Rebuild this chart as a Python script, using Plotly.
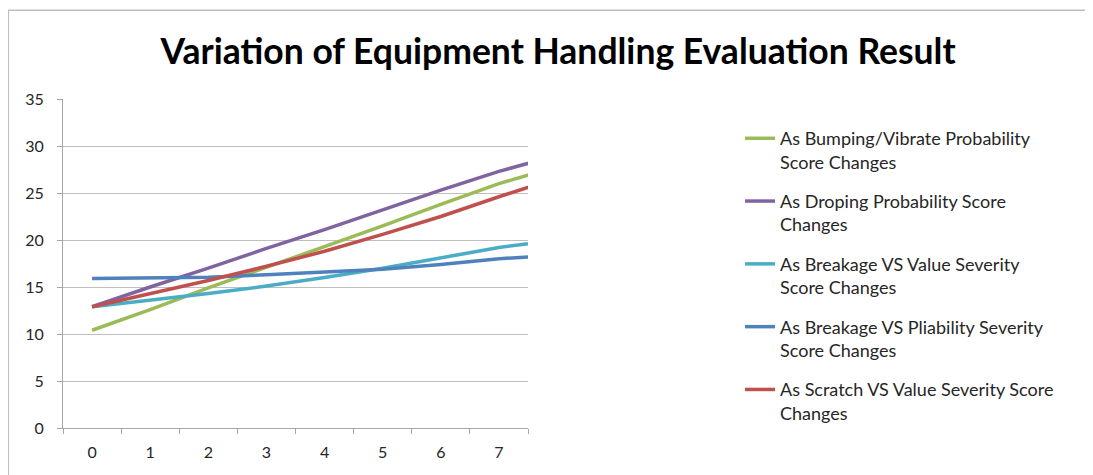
import plotly.graph_objects as go

# x categories (last point lies past the visible edge, chart is cut at 7.5)
steps = [0, 1, 2, 3, 4, 5, 6, 7, 8]

bumping = [10.4, 12.6, 14.9, 17.1, 19.3, 21.5, 23.8, 26.0, 27.8]
droping = [12.9, 15.0, 17.0, 19.1, 21.1, 23.2, 25.3, 27.3, 29.0]
breakage_value = [12.9, 13.6, 14.3, 15.1, 16.0, 17.0, 18.1, 19.2, 20.0]
breakage_pliability = [15.9, 15.95, 16.05, 16.3, 16.6, 16.9, 17.4, 18.0, 18.4]
scratch_value = [12.9, 14.3, 15.7, 17.2, 18.8, 20.6, 22.5, 24.6, 26.6]

series = [
    ("As Bumping/Vibrate Probability<br>Score Changes", bumping, "#9BBB59"),
    ("As Droping Probability Score<br>Changes", droping, "#8064A2"),
    ("As Breakage VS Value Severity<br>Score Changes", breakage_value, "#4BACC6"),
    ("As Breakage VS Pliability Severity<br>Score Changes", breakage_pliability, "#4F81BD"),
    ("As Scratch VS Value Severity Score<br>Changes", scratch_value, "#C0504D"),
]

fig = go.Figure()
for i, (name, vals, col) in enumerate(series):
    fig.add_trace(go.Scatter(
        x=steps, y=vals, name=name, mode="lines",
        legendgroup="g%d" % i,
        line=dict(color=col, width=3.5),
    ))

# page has an 8px body margin, so the figure is a bit smaller than the window
fig.update_layout(
    width=1085, height=467,
    paper_bgcolor="white", plot_bgcolor="white",
    font=dict(family="Lato", size=16, color="#262626"),
    margin=dict(l=55, r=565, t=91, b=47),
    title=dict(
        text="<b>Variation of Equipment Handling Evaluation Result</b>",
        x=0.507, xref="container", xanchor="center",
        y=0.906, yref="container", yanchor="middle",
        font=dict(family="Lato", size=35.5, color="black"),
    ),
    showlegend=True,
    legend=dict(
        x=1.456, xanchor="left", y=0.936, yanchor="top",
        valign="top", tracegroupgap=13, maxheight=460,
        font=dict(family="Lato", size=18, color="#262626"),
        bgcolor="rgba(0,0,0,0)",
    ),
    shapes=[dict(
        type="rect", xref="paper", yref="paper",
        x0=-0.1175, x1=2.6, y0=-0.3, y1=1.27,
        line=dict(color="#BFBFBF", width=1.5),
    )],
)

fig.update_xaxes(
    range=[-0.5, 7.5], tickvals=list(range(8)), ticks="",
    showgrid=False, zeroline=False,
    showline=True, linecolor="#A6A6A6", linewidth=1,
    tickfont=dict(size=16, color="#262626"),
    ticklabelstandoff=10,
    minor=dict(tick0=-0.5, dtick=1, ticks="outside", ticklen=5,
               tickcolor="#A6A6A6", showgrid=False),
)
fig.update_yaxes(
    range=[0, 35], dtick=5, ticks="outside", ticklen=5, tickcolor="#A6A6A6",
    showgrid=True, gridcolor="#BFBFBF", gridwidth=1, zeroline=False,
    showline=True, linecolor="#A6A6A6", linewidth=1,
    tickfont=dict(size=16, color="#262626"),
    ticklabelstandoff=10,
)

fig.write_html("out.html")
